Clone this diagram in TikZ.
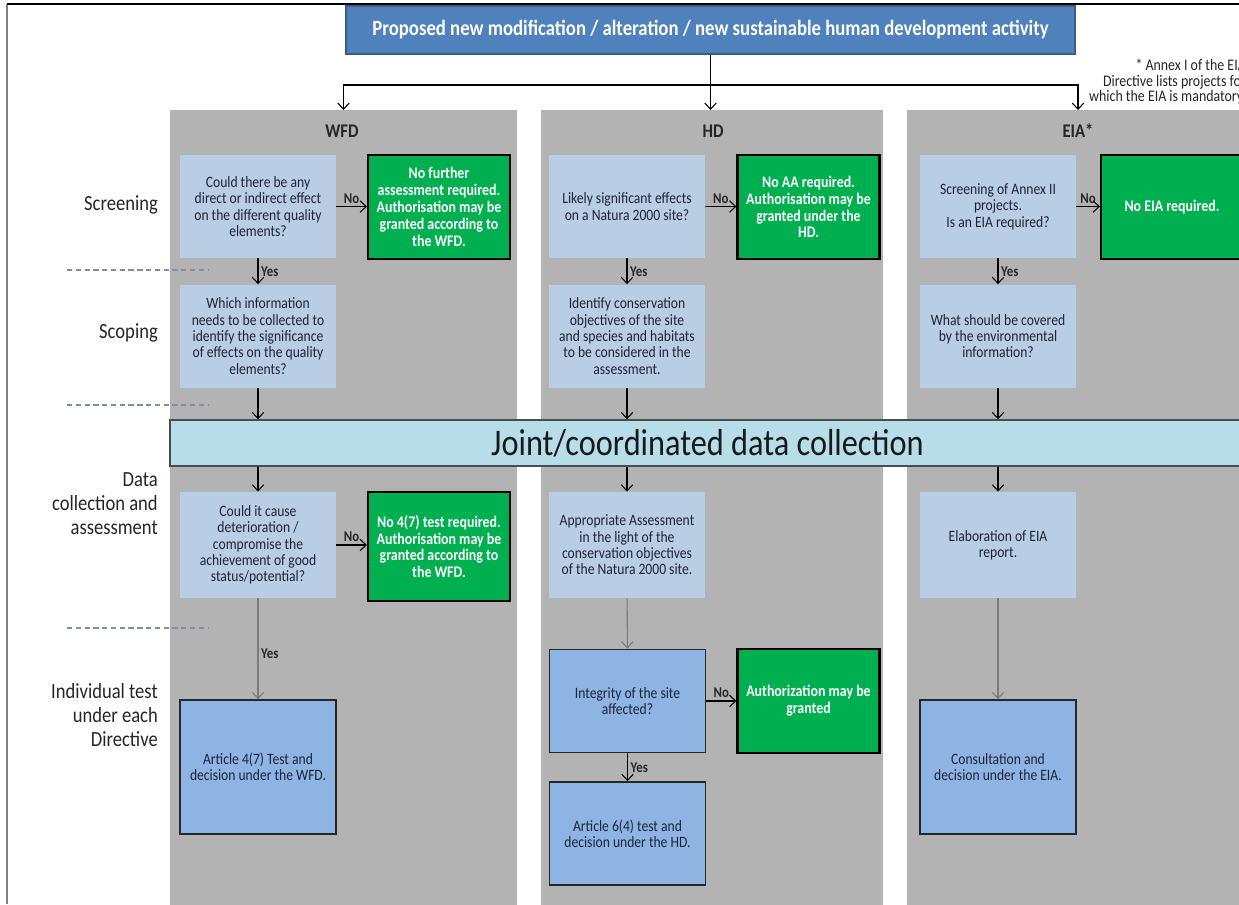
\documentclass[tikz,border=0pt]{standalone}
\usepackage{fontspec}
\setmainfont{Carlito}[FakeStretch=0.86]
\usetikzlibrary{arrows.meta}
\definecolor{topblue}{HTML}{4F81BD}
\definecolor{topline}{HTML}{385D8A}
\definecolor{colgray}{HTML}{B3B3B3}
\definecolor{qblue}{HTML}{B9CDE5}
\definecolor{tblue}{HTML}{8EB4E3}
\definecolor{okgreen}{HTML}{00B050}
\definecolor{jointcyan}{HTML}{B7DEE8}
\definecolor{dashgray}{HTML}{7F8FA6}
\definecolor{boxtext}{HTML}{1C2536}
\begin{document}
\begin{tikzpicture}[x=0.02cm,y=-0.02cm,
    arr/.style={-{Straight Barb[length=3.5pt,width=6.5pt]},line width=0.6pt,black},
    garr/.style={arr,draw=black!52},
    topbox/.style={draw=topline,line width=0.8pt,fill=topblue,text=white,minimum width=14.58cm,minimum height=0.96cm,font=\fontsize{12.4}{14}\selectfont\bfseries},
    col/.style={fill=colgray,minimum height=16cm,anchor=north,inner sep=0pt},
    ttl/.style={font=\fontsize{11}{13}\selectfont\bfseries,text=black!85},
    q/.style={fill=qblue,text=boxtext,align=center,minimum width=3.12cm,minimum height=2.06cm,inner sep=2pt,font=\fontsize{9}{9.3}\selectfont},
    ok/.style={draw=black,line width=1.2pt,fill=okgreen,text=white,align=center,minimum width=2.84cm,minimum height=2.08cm,inner sep=2pt,font=\fontsize{9.2}{9.6}\selectfont\bfseries},
    tst/.style={q,draw=black!85,line width=1pt,fill=tblue},
    joint/.style={draw=black!70,line width=0.8pt,fill=jointcyan,minimum width=21.5cm,minimum height=0.92cm,font=\fontsize{21.4}{23}\selectfont,text=black!90},
    lab/.style={anchor=east,align=right,font=\fontsize{12.3}{13.6}\selectfont,text=black!85},
    yn/.style={font=\fontsize{8.5}{9}\selectfont\bfseries,text=black!85,inner sep=1.5pt},
    note/.style={anchor=north east,align=right,font=\fontsize{9.2}{8.9}\selectfont,text=black!85},
    rowsep/.style={dashgray,line width=0.8pt,dash pattern=on 3pt off 2pt}]
\useasboundingbox (0,0) rectangle (1239,904);
% frame
\draw[black!50,line width=0.8pt] (7,4) -- (7,904);
\draw[black,line width=1pt] (7,4) -- (1239,4);
% directive columns
\node[col,minimum width=6.94cm] (wfdcol) at (343.5,110) {};
\node[col,minimum width=6.86cm] (hdcol) at (712,110) {};
\node[col,minimum width=6.84cm] (eiacol) at (1078,110) {};
\node[ttl] (wfdt) at (342,131) {WFD};
\node[ttl] (hdt) at (713,131) {HD};
\node[ttl] (eiat) at (1078,131) {EIA*};
% proposal
\node[topbox] (prop) at (710.5,30) {Proposed new modification / alteration / new sustainable human development activity};
\coordinate (split) at (710.5,85);
\draw[line width=0.6pt] (prop.south) -- (split);
\draw[arr] (split) -| (wfdcol.north);
\draw[arr] (split) -| (eiacol.north);
\draw[arr] (prop.south) -- (prop.south |- hdcol.north);
\node[note] (annex) at (1252,53) {* Annex I of the EIA\\Directive lists projects for\\which the EIA is mandatory.};
% stage labels
\node[lab] (lscr) at (164,205) {Screening};
\node[lab] (lscp) at (164,333) {Scoping};
\node[lab] (ldat) at (164,504) {Data\\collection and\\assessment};
\node[lab] (lind) at (164,715) {Individual test\\under each\\Directive};
\foreach \y in {270,405,628}
  \draw[rowsep] (67,\y) -- (209,\y);
% WFD
\node[q] (wscr) at (258,206.5) {Could there be any\\direct or indirect effect\\on the different quality\\elements?};
\node[ok] (wno1) at (439,207) {No further\\assessment required.\\Authorisation may be\\granted according to\\the WFD.};
\node[q] (wscp) at (258,336) {Which information\\needs to be collected to\\identify the significance\\of effects on the quality\\elements?};
\node[q,minimum height=2.12cm] (wdat) at (258,545) {Could it cause\\deterioration /\\compromise the\\achievement of good\\status/potential?};
\node[ok,minimum height=2.18cm] (wno2) at (439,546.5) {No 4(7) test required.\\Authorisation may be\\granted according to\\the WFD.};
\node[tst,minimum height=2.68cm] (wtst) at (258,767) {Article 4(7) Test and\\decision under the WFD.};
% HD
\node[q] (hscr) at (627,206.5) {Likely significant effects\\on a Natura 2000 site?};
\node[ok] (hno1) at (808.5,207) {No AA required.\\Authorisation may be\\granted under the\\HD.};
\node[q] (hscp) at (627,336) {Identify conservation\\objectives of the site\\and species and habitats\\to be considered in the\\assessment.};
\node[q,minimum height=2.12cm] (hdat) at (627,545) {Appropriate Assessment\\in the light of the\\conservation objectives\\of the Natura 2000 site.};
\node[tst] (hint) at (627.5,701) {Integrity of the site\\affected?};
\node[ok] (hno2) at (808.5,701) {Authorization may be\\granted};
\node[tst] (hart) at (627.5,833.5) {Article 6(4) test and\\decision under the HD.};
% EIA
\node[q] (escr) at (998,206.5) {Screening of Annex II\\projects.\\Is an EIA required?};
\node[ok] (eno1) at (1172,207) {No EIA required.};
\node[q] (escp) at (998,336) {What should be covered\\by the environmental\\information?};
\node[q,minimum height=2.12cm] (edat) at (998,545) {Elaboration of EIA\\report.};
\node[tst,minimum height=2.68cm] (etst) at (998,767) {Consultation and\\decision under the EIA.};
% joint step
\node[joint] (joint) at (707.5,443) {Joint/coordinated data collection};
% connectors
\draw[arr] (wscr.east) -- (wscr.east -| wno1.west) node[yn,above,midway] {No};
\draw[arr] (wscr) -- (wscp) node[yn,right,midway] {Yes};
\draw[arr] (wscp) -- (wscp |- joint.north);
\draw[arr] (wdat |- joint.south) -- (wdat);
\draw[arr] (wdat.east) -- (wdat.east -| wno2.west) node[yn,above,midway] {No};
\draw[garr] (wdat) -- (wtst) node[yn,right,pos=0.55] {Yes};
\draw[arr] (hscr.east) -- (hscr.east -| hno1.west) node[yn,above,midway] {No};
\draw[arr] (hscr) -- (hscp) node[yn,right,midway] {Yes};
\draw[arr] (hscp) -- (hscp |- joint.north);
\draw[arr] (hdat |- joint.south) -- (hdat);
\draw[garr] (hdat) -- (hint);
\draw[arr] (hint.east) -- (hint.east -| hno2.west) node[yn,above,midway] {No};
\draw[arr] (hint) -- (hart) node[yn,right,midway] {Yes};
\draw[arr] (escr.east) -- (escr.east -| eno1.west) node[yn,above,midway] {No};
\draw[arr] (escr) -- (escp) node[yn,right,midway] {Yes};
\draw[arr] (escp) -- (escp |- joint.north);
\draw[arr] (edat |- joint.south) -- (edat);
\draw[garr] (edat) -- (etst);
\end{tikzpicture}
\end{document}
